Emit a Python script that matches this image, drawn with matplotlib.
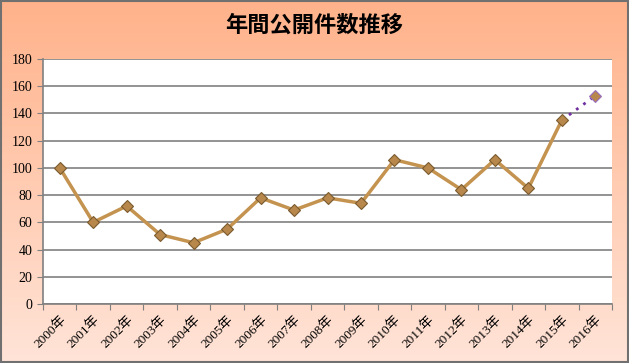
"""
Yearly publication count chart (年間公開件数推移).
"""

import numpy as np
import matplotlib.pyplot as plt

# === Data ===
YEARS = ["2000年", "2001年", "2002年", "2003年", "2004年", "2005年", "2006年",
         "2007年", "2008年", "2009年", "2010年", "2011年", "2012年", "2013年",
         "2014年", "2015年", "2016年"]
COUNTS = [100, 60, 72, 51, 45, 55, 78, 69, 78, 74, 106, 100, 84, 106, 85, 135, 153]
N_ACTUAL = 16  # 2000-2015 actual, 2016 forecast

TITLE = "年間公開件数推移"

LINE_COLOR = "#C4934F"
MARKER_FACE = "#B8874C"
MARKER_EDGE = "#7A5A2E"
FORECAST_COLOR = "#7030A0"

plt.rcParams["font.family"] = ["Liberation Serif", "Noto Sans CJK JP", "DejaVu Sans"]
plt.rcParams["font.size"] = 10

fig = plt.figure(figsize=(6.29, 3.63), dpi=100)

# gradient background
bg = fig.add_axes([0, 0, 1, 1], zorder=0)
grad = np.linspace(0, 1, 256).reshape(-1, 1)
top = np.array([255, 178, 138]) / 255
bottom = np.array([255, 228, 216]) / 255
img = top[None, None, :] * (1 - grad[:, :, None]) + bottom[None, None, :] * grad[:, :, None]
bg.imshow(img, aspect="auto", extent=[0, 1, 0, 1])
bg.set_xlim(0, 1)
bg.set_ylim(0, 1)
bg.axis("off")
bg.add_patch(plt.Rectangle((0.002, 0.003), 0.996, 0.994, fill=False,
                           edgecolor="#707070", linewidth=1.5, transform=bg.transAxes))

# plot area: left 43px, right 612px, top 59px, bottom 304px
ax = fig.add_axes([43 / 629, 1 - 304 / 363, (612 - 43) / 629, (304 - 59) / 363], zorder=1)
ax.set_facecolor("white")

x = np.arange(len(YEARS))
ax.plot(x[:N_ACTUAL], COUNTS[:N_ACTUAL], color=LINE_COLOR, linewidth=2.5,
        marker="D", markersize=6, markerfacecolor=MARKER_FACE,
        markeredgecolor=MARKER_EDGE, markeredgewidth=0.8, zorder=3)
ax.plot(x[N_ACTUAL - 1:], COUNTS[N_ACTUAL - 1:], color=FORECAST_COLOR,
        linewidth=2, linestyle=(0, (1, 2.2)), zorder=2)
ax.plot(x[N_ACTUAL:], COUNTS[N_ACTUAL:], linestyle="none", marker="D",
        markersize=6, markerfacecolor=MARKER_FACE, markeredgecolor="#9A70C0",
        markeredgewidth=0.8, zorder=3)

ax.set_xlim(-0.5, len(YEARS) - 0.5)
ax.set_ylim(0, 180)
ax.set_yticks(range(0, 181, 20))
ax.yaxis.grid(True, color="#808080", linewidth=1.2)
ax.set_axisbelow(True)

ax.set_xticks(np.arange(-0.5, len(YEARS), 1.0))
ax.set_xticklabels([])
ax.set_xticks(x, minor=True)
ax.set_xticklabels(YEARS, minor=True, rotation=45, ha="right",
                   rotation_mode="anchor", fontsize=9.5)
ax.tick_params(axis="x", which="minor", length=0, pad=7)
ax.tick_params(axis="x", which="major", length=4, color="#808080")
ax.tick_params(axis="y", length=4, color="#808080", labelsize=10)

for side in ("top", "right"):
    ax.spines[side].set_visible(False)
for side in ("left", "bottom"):
    ax.spines[side].set_color("#808080")
    ax.spines[side].set_linewidth(1.2)

fig.text(0.5, 1 - 25 / 363, TITLE, ha="center", va="center", fontsize=16,
         fontweight="bold", family=["Noto Sans CJK JP"])

fig.savefig("out.png", dpi=100)
